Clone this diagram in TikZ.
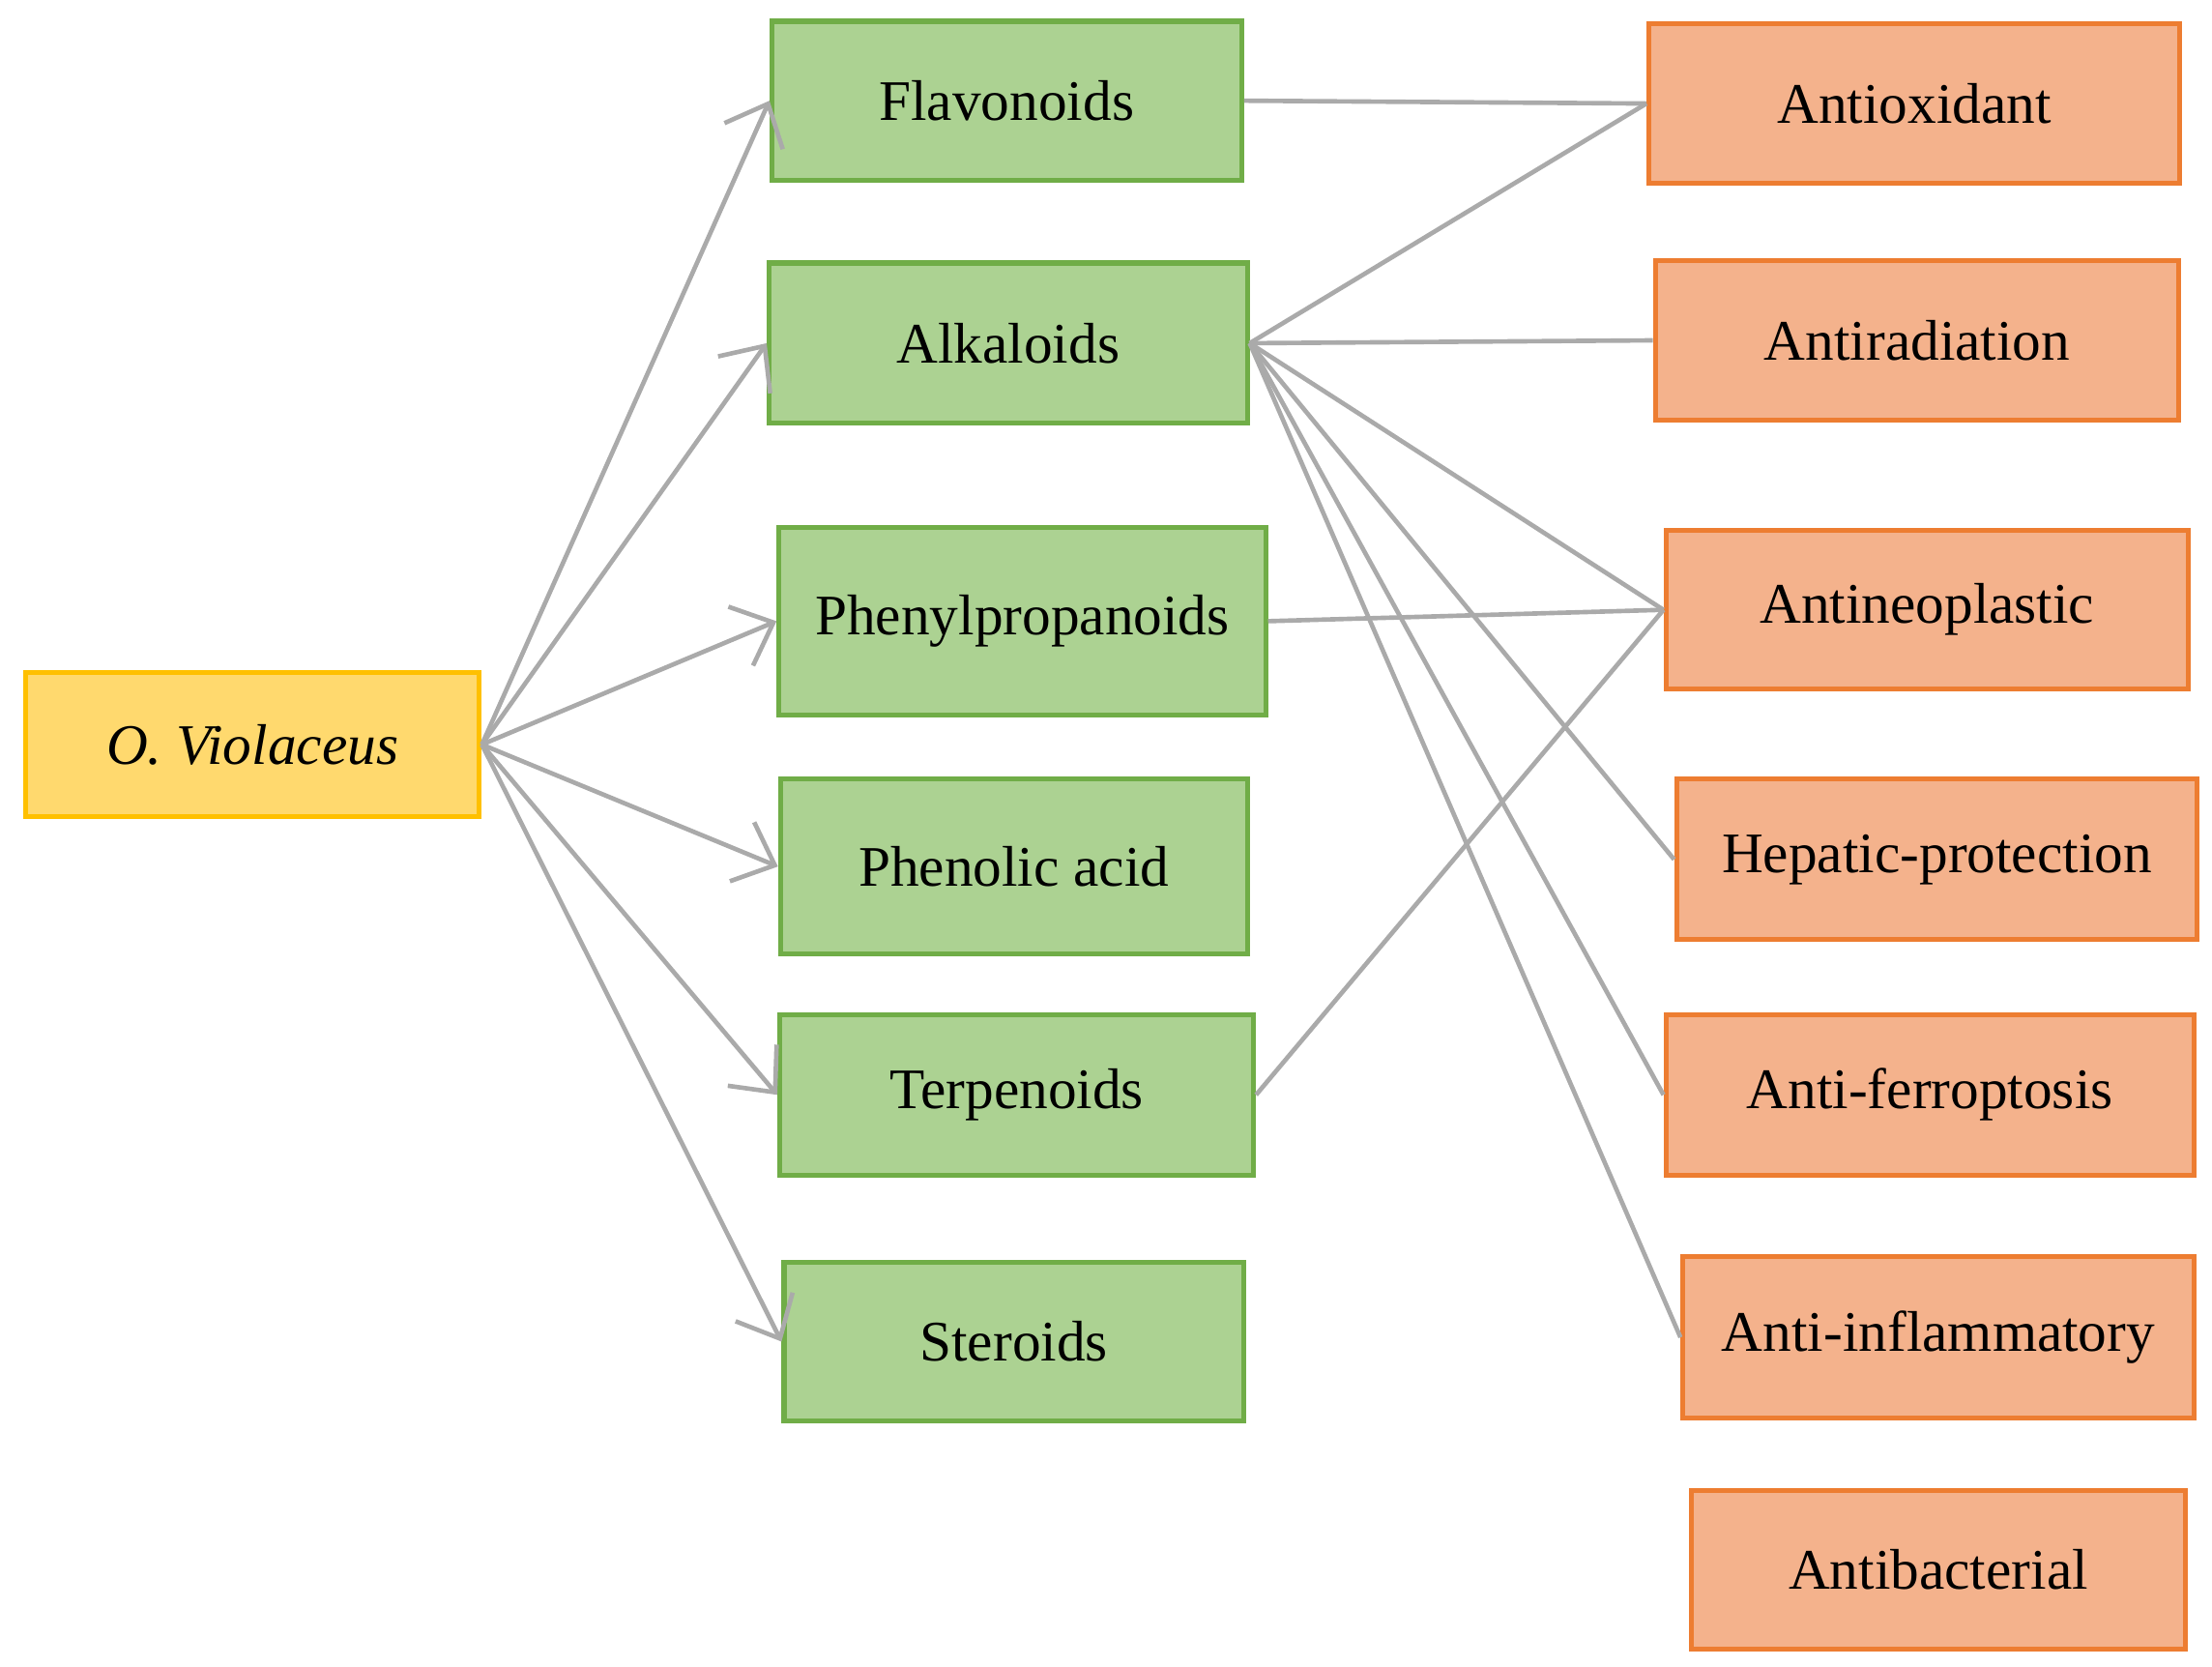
\documentclass[tikz,border=0pt]{standalone}
\usepackage{fontspec}
\setmainfont{Liberation Serif}
\usetikzlibrary{arrows.meta}
\definecolor{grfill}{RGB}{172,210,146}
\definecolor{grline}{RGB}{112,173,71}
\definecolor{orfill}{RGB}{244,178,140}
\definecolor{orline}{RGB}{237,125,49}
\definecolor{yefill}{RGB}{255,217,110}
\definecolor{yeline}{RGB}{255,192,0}
\definecolor{edge}{RGB}{170,170,170}

\begin{document}
\begin{tikzpicture}[x=0.01cm,y=-0.01cm,
    box/.style={draw,line width=1pt,minimum height=1.12cm,inner sep=0pt,font=\fontsize{11.5}{13}\selectfont},
    comp/.style={box,fill=grfill,draw=grline},
    act/.style={box,fill=orfill,draw=orline},
    src/.style={box,fill=yefill,draw=yeline},
    link/.style={draw=edge,line width=0.9pt},
    feed/.style={link,-{Straight Barb[length=2.5mm,width=4.5mm]}}]
  \useasboundingbox (0,0) rectangle (1560,1175);
  \node[src,minimum width=3.2cm,minimum height=1.02cm] (ov) at (178,525) {\itshape O. Violaceus};
  % compounds
  \node[comp,minimum width=3.31cm] (flav) at (710,71) {Flavonoids};
  \node[comp,minimum width=3.37cm,minimum height=1.13cm] (alk) at (711,242) {Alkaloids};
  \node[comp,minimum width=3.43cm,minimum height=1.32cm] (phen) at (721,438) {Phenylpropanoids};
  \node[comp,minimum width=3.29cm,minimum height=1.23cm] (acid) at (715,611) {Phenolic acid};
  \node[comp,minimum width=3.34cm,minimum height=1.13cm] (terp) at (717,772) {Terpenoids};
  \node[comp,minimum width=3.24cm] (ster) at (715,946) {Steroids};
  % activities
  \node[act,minimum width=3.74cm] (aox) at (1350,73) {Antioxidant};
  \node[act,minimum width=3.69cm] (arad) at (1352,240) {Antiradiation};
  \node[act,minimum width=3.68cm] (aneo) at (1359,430) {Antineoplastic};
  \node[act,minimum width=3.67cm,minimum height=1.13cm] (hep) at (1366,606) {Hepatic-protection};
  \node[act,minimum width=3.72cm,minimum height=1.13cm] (afer) at (1361,772) {Anti-ferroptosis};
  \node[act,minimum width=3.60cm,minimum height=1.14cm] (ainf) at (1367,943) {Anti-inflammatory};
  \node[act,minimum width=3.48cm] (abac) at (1367,1107) {Antibacterial};
  % edges
  \foreach \t in {flav,alk,phen,acid,terp,ster}
    \draw[feed] (ov.east) -- (\t.west);
  \foreach \t in {aox,arad,aneo,hep,afer,ainf}
    \draw[link] (alk.east) -- (\t.west);
  \draw[link] (flav.east) -- (aox.west);
  \draw[link] (phen.east) -- (aneo.west);
  \draw[link] (terp.east) -- (aneo.west);
\end{tikzpicture}
\end{document}
